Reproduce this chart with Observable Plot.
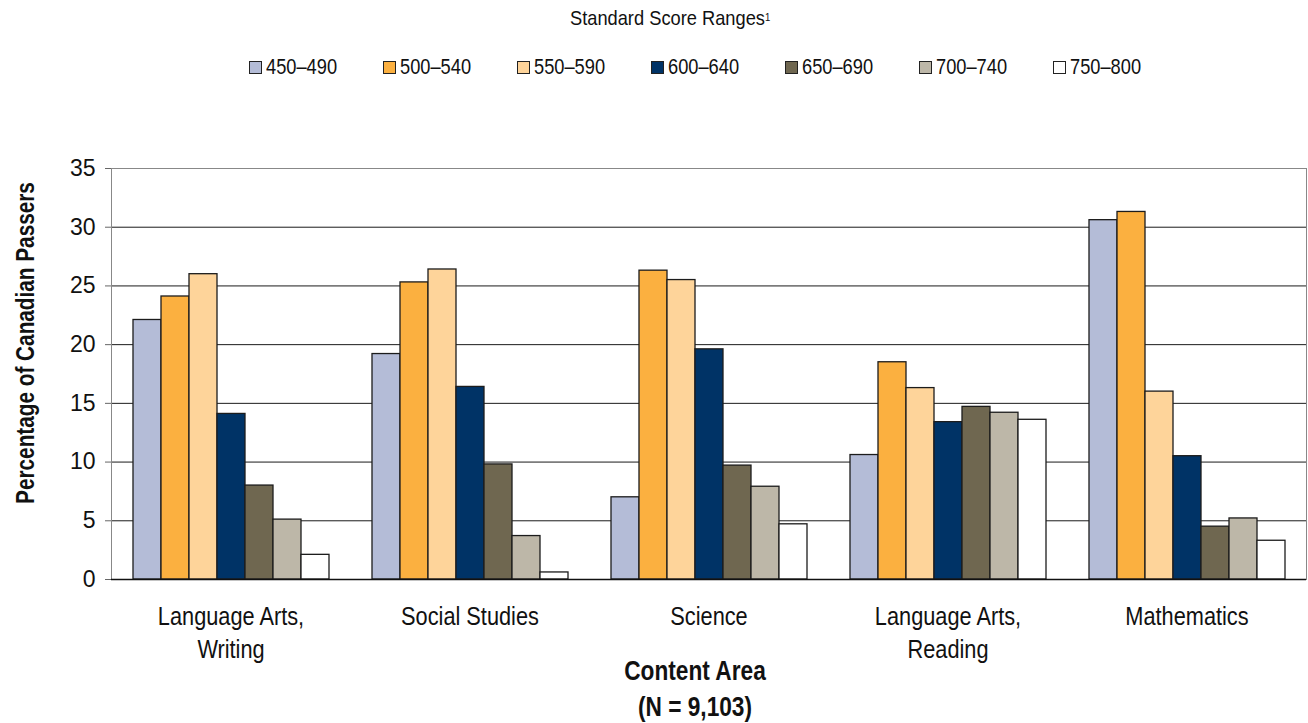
<!DOCTYPE html>
<html><head><meta charset="utf-8">
<script src="https://cdn.jsdelivr.net/npm/d3@7"></script>
<script src="https://cdn.jsdelivr.net/npm/@observablehq/plot@0.6"></script>
<style>
body{margin:0;background:#fff;}
#wrap{position:relative;width:1308px;height:723px;font-family:"Liberation Sans",Arial,sans-serif;color:#111;overflow:hidden;}
#header{position:relative;height:100px;}
#ltitle{position:absolute;left:0;width:1340px;top:6px;text-align:center;line-height:24px;}
#ltitle span.in{display:inline-block;font-size:21px;transform:scaleX(0.87);transform-origin:center;white-space:nowrap;}
#ltitle sup{font-size:11px;vertical-align:top;position:relative;top:-1px;}
#legend{position:absolute;left:249px;top:56px;display:flex;gap:43px;align-items:center;}
.item{display:flex;align-items:center;font-size:22px;line-height:22px;}
.sw{width:13px;height:13px;box-sizing:border-box;border:1.5px solid #222;margin-right:4px;}
.lt{display:inline-block;width:74px;white-space:nowrap;transform:scaleX(0.83);transform-origin:left center;}
#ytitle{position:absolute;left:25px;top:343px;transform:translate(-50%,-50%) rotate(-90deg) scaleX(0.83);white-space:nowrap;font-weight:bold;font-size:25px;}
#xtitle{position:absolute;left:695px;top:653px;transform:translateX(-50%) scaleX(0.84);text-align:center;white-space:nowrap;font-weight:bold;font-size:27px;line-height:36px;}
</style></head><body>
<div id="wrap">
  <div id="header">
    <div id="ltitle"><span class="in">Standard Score Ranges<sup>1</sup></span></div>
    <div id="legend"></div>
  </div>
  <div id="chart"></div>
  <div id="ytitle">Percentage of Canadian Passers</div>
  <div id="xtitle">Content Area<br>(N = 9,103)</div>
</div>
<script>
// ---- data ----
const categories = ["Language Arts, Writing", "Social Studies", "Science", "Language Arts, Reading", "Mathematics"];
const categoryLabels = ["Language Arts,\nWriting", "Social Studies", "Science", "Language Arts,\nReading", "Mathematics"];
const ranges = ["450–490", "500–540", "550–590", "600–640", "650–690", "700–740", "750–800"];
const rangeColors = ["#b4bcd7", "#fbb040", "#fed49a", "#003366", "#6f6750", "#bdb7a8", "#ffffff"];
const writing = [22.1, 24.1, 26.0, 14.1, 8.0, 5.1, 2.1];
const socialStudies = [19.2, 25.3, 26.4, 16.4, 9.8, 3.7, 0.6];
const science = [7.0, 26.3, 25.5, 19.6, 9.7, 7.9, 4.7];
const reading = [10.6, 18.5, 16.3, 13.4, 14.7, 14.2, 13.6];
const mathematics = [30.6, 31.3, 16.0, 10.5, 4.5, 5.2, 3.3];
const yTicks = [0, 5, 10, 15, 20, 25, 30, 35];

const series = [writing, socialStudies, science, reading, mathematics];
const data = [];
categories.forEach((c, i) => ranges.forEach((r, j) => data.push({category: c, range: r, value: series[i][j]})));
const labelOf = new Map(categories.map((c, i) => [c, categoryLabels[i]]));

// ---- legend ----
const legend = document.getElementById("legend");
ranges.forEach((r, i) => {
  const it = document.createElement("div"); it.className = "item";
  const sw = document.createElement("div"); sw.className = "sw"; sw.style.background = rangeColors[i];
  const tx = document.createElement("span"); tx.className = "lt"; tx.textContent = r;
  it.appendChild(sw); it.appendChild(tx); legend.appendChild(it);
});

// ---- chart ----
const chart = Plot.plot({
  width: 1308,
  height: 623,
  marginLeft: 109,
  marginRight: 1,
  marginTop: 68,
  marginBottom: 144,
  style: {fontFamily: "'Liberation Sans', Arial, sans-serif", color: "#111", background: "#fff"},
  fx: {domain: categories, padding: 0},
  x: {domain: ranges, paddingInner: 0, paddingOuter: 0.757, axis: null},
  y: {domain: [0, 35]},
  color: {domain: ranges, range: rangeColors},
  marks: [
    Plot.ruleY(yTicks.slice(1), {stroke: "#1a1a1a", strokeWidth: 1}),
    Plot.barY(data, {fx: "category", x: "range", y: "value", fill: "range", stroke: "#1c1c1c", strokeWidth: 1.3}),
    Plot.frame({facet: "super", stroke: "#888"}),
    Plot.ruleY([0], {stroke: "#111", strokeWidth: 1.3}),
    Plot.axisY({ticks: yTicks, tickSize: 6, tickPadding: 10, label: null, fontSize: 23,
      fontFamily: "'Liberation Sans', Arial, sans-serif", stroke: "#666"}),
    Plot.axisFx({anchor: "bottom", tickSize: 0, tickPadding: 22, label: null, tickFormat: d => labelOf.get(d),
      fontSize: 25, lineHeight: 1.32, fontFamily: "'Liberation Sans', Arial, sans-serif"})
  ]
});
// condense the category labels horizontally to mimic the narrow typeface
d3.select(chart).selectAll('g[aria-label="fx-axis tick label"] text').each(function () {
  const x = +(this.getAttribute("x") || 0);
  const t = this.getAttribute("transform") || "";
  this.setAttribute("transform", `${t} translate(${x},0) scale(0.87,1) translate(${-x},0)`);
});
document.getElementById("chart").appendChild(chart);
</script>
</body></html>
